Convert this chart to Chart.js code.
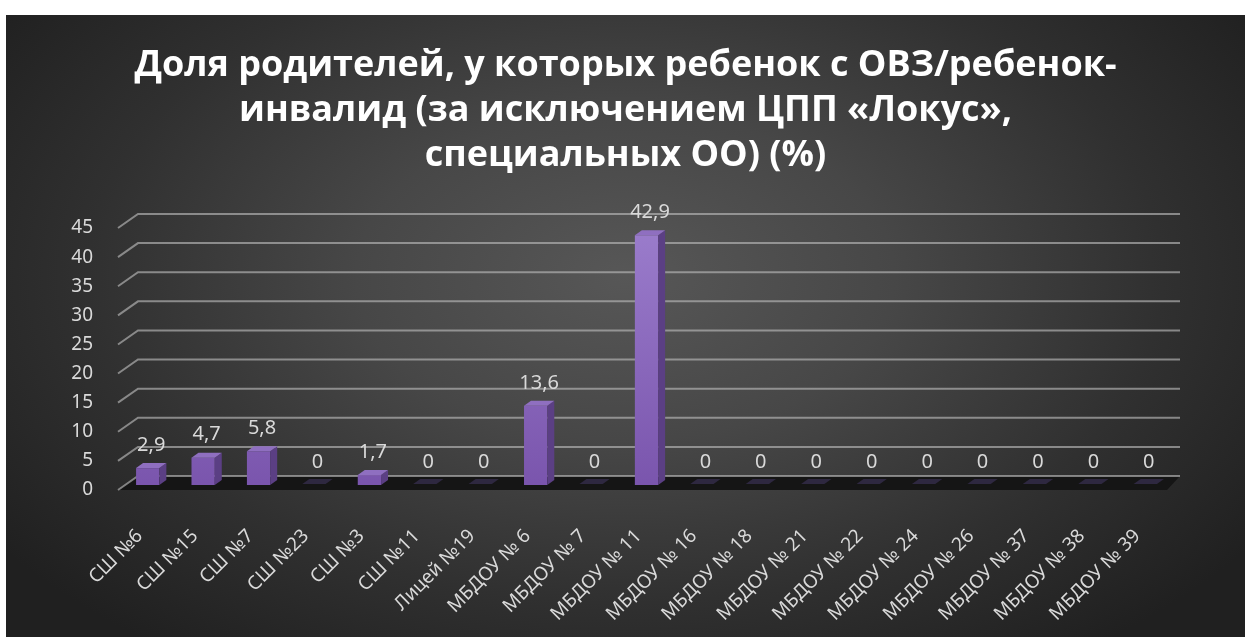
<!DOCTYPE html>
<html>
<head>
<meta charset="utf-8">
<script src="https://cdn.jsdelivr.net/npm/chart.js@4.4.1/dist/chart.umd.min.js"></script>
<style>
  html, body { margin: 0; padding: 0; background: #ffffff; }
  #box {
    position: absolute; left: 6px; top: 15px; width: 1239px; height: 622px;
    background: radial-gradient(ellipse 62% 75% at 50% 42%, #575757 0%, #474747 35%, #303030 70%, #202020 100%);
  }
</style>
</head>
<body>
<div id="box"><canvas id="myChart" width="1239" height="622"></canvas></div>
<script>
// Chart data
const categories = ['СШ №6', 'СШ №15', 'СШ №7', 'СШ №23', 'СШ №3', 'СШ №11', 'Лицей №19',
    'МБДОУ № 6', 'МБДОУ № 7', 'МБДОУ № 11', 'МБДОУ № 16', 'МБДОУ № 18', 'МБДОУ № 21',
    'МБДОУ № 22', 'МБДОУ № 24', 'МБДОУ № 26', 'МБДОУ № 37', 'МБДОУ № 38', 'МБДОУ № 39'];
const shareValues = [2.9, 4.7, 5.8, 0, 1.7, 0, 0, 13.6, 0, 42.9, 0, 0, 0, 0, 0, 0, 0, 0, 0];
const yTicks = [0, 5, 10, 15, 20, 25, 30, 35, 40, 45];
const titleLines = ['Доля родителей, у которых ребенок с ОВЗ/ребенок-',
    'инвалид (за исключением ЦПП «Локус»,',
    'специальных ОО) (%)'];

const depth = 7;
const labelColor = '#d9d9d9';

// floor + slanted grid lines (fake 3d walls)
const wallPlugin = {
    id: 'wall',
    beforeDatasetsDraw(chart) {
        const ctx = chart.ctx;
        const area = chart.chartArea;
        const y = chart.scales.y;
        const base = y.getPixelForValue(0);
        ctx.save();
        // floor
        ctx.fillStyle = '#151515';
        ctx.beginPath();
        ctx.moveTo(area.left - 2, base + 5);
        ctx.lineTo(area.right - 6, base + 5);
        ctx.lineTo(area.right + 7, base - 9);
        ctx.lineTo(area.left + 18, base - 9);
        ctx.closePath();
        ctx.fill();
        // grid lines
        ctx.strokeStyle = 'rgba(185,185,185,0.65)';
        ctx.lineWidth = 2;
        yTicks.forEach(v => {
            const py = y.getPixelForValue(v);
            ctx.beginPath();
            ctx.moveTo(area.left - 2, py + 5);
            ctx.lineTo(area.left + 18, py - 9);
            ctx.lineTo(area.right + 7, py - 9);
            ctx.stroke();
        });
        ctx.restore();
    },
    afterDatasetsDraw(chart) {
        const ctx = chart.ctx;
        const meta = chart.getDatasetMeta(0);
        ctx.save();
        meta.data.forEach((bar, i) => {
            const p = bar.getProps(['x', 'y', 'base', 'width'], true);
            const l = p.x - p.width / 2, r = p.x + p.width / 2;
            if (shareValues[i] > 0) {
                // side
                ctx.fillStyle = '#5b3f84';
                ctx.beginPath();
                ctx.moveTo(r, p.y);
                ctx.lineTo(r + depth, p.y - depth + 2);
                ctx.lineTo(r + depth, p.base - depth + 2);
                ctx.lineTo(r, p.base);
                ctx.closePath();
                ctx.fill();
                // top
                ctx.fillStyle = '#8f6fc0';
                ctx.beginPath();
                ctx.moveTo(l, p.y);
                ctx.lineTo(r, p.y);
                ctx.lineTo(r + depth, p.y - depth + 2);
                ctx.lineTo(l + depth, p.y - depth + 2);
                ctx.closePath();
                ctx.fill();
            } else {
                ctx.fillStyle = '#2e2840';
                ctx.beginPath();
                ctx.moveTo(l, p.base - 1);
                ctx.lineTo(r, p.base - 1);
                ctx.lineTo(r + depth, p.base - depth + 1);
                ctx.lineTo(l + depth, p.base - depth + 1);
                ctx.closePath();
                ctx.fill();
            }
            // value label
            ctx.fillStyle = labelColor;
            ctx.font = '20px "Noto Sans"';
            ctx.textAlign = 'center';
            ctx.textBaseline = 'middle';
            const txt = String(shareValues[i]).replace('.', ',');
            ctx.fillText(txt, p.x + depth / 2, p.y - 23);
        });
        ctx.restore();
    }
};

const ctx = document.getElementById('myChart').getContext('2d');
const myChart = new Chart(ctx, {
    type: 'bar',
    data: {
        labels: categories,
        datasets: [{
            data: shareValues,
            backgroundColor: (c) => {
                const area = c.chart.chartArea;
                if (!area) return '#8a66bb';
                const g = c.chart.ctx.createLinearGradient(0, area.top, 0, area.bottom);
                g.addColorStop(0, '#9b7dcc');
                g.addColorStop(1, '#7a55ad');
                return g;
            },
            borderWidth: 0,
            barPercentage: 0.42,
            categoryPercentage: 1
        }]
    },
    options: {
        responsive: false,
        animation: false,
        layout: { padding: 0 },
        plugins: {
            legend: { display: false },
            tooltip: { enabled: false },
            title: {
                display: true,
                text: titleLines,
                color: '#ffffff',
                font: { family: '"Open Sans"', size: 36, weight: 'bold', lineHeight: '45px' },
                padding: { top: 28, bottom: 45 }
            }
        },
        scales: {
            x: {
                grid: { display: false, drawTicks: false },
                border: { display: false },
                ticks: {
                    color: labelColor,
                    font: { family: '"Noto Sans"', size: 19 },
                    minRotation: 45, maxRotation: 45,
                    autoSkip: false,
                    padding: 40,
                    labelOffset: -8
                },
                afterFit(scale) { scale.height = 152; }
            },
            y: {
                min: 0, max: 45,
                grid: { display: false, drawTicks: false },
                border: { display: false },
                ticks: {
                    stepSize: 5,
                    color: labelColor,
                    font: { family: '"Noto Sans"', size: 19 },
                    padding: 27,
                    labelOffset: 5
                },
                afterFit(scale) { scale.width = 114; }
            },
            // empty right axis, only keeps space on the right side
            yRight: {
                position: 'right',
                min: 0, max: 45,
                grid: { display: false, drawTicks: false },
                border: { display: false },
                ticks: { display: false },
                afterFit(scale) { scale.width = 72; }
            }
        }
    },
    plugins: [wallPlugin]
});
</script>
</body>
</html>
